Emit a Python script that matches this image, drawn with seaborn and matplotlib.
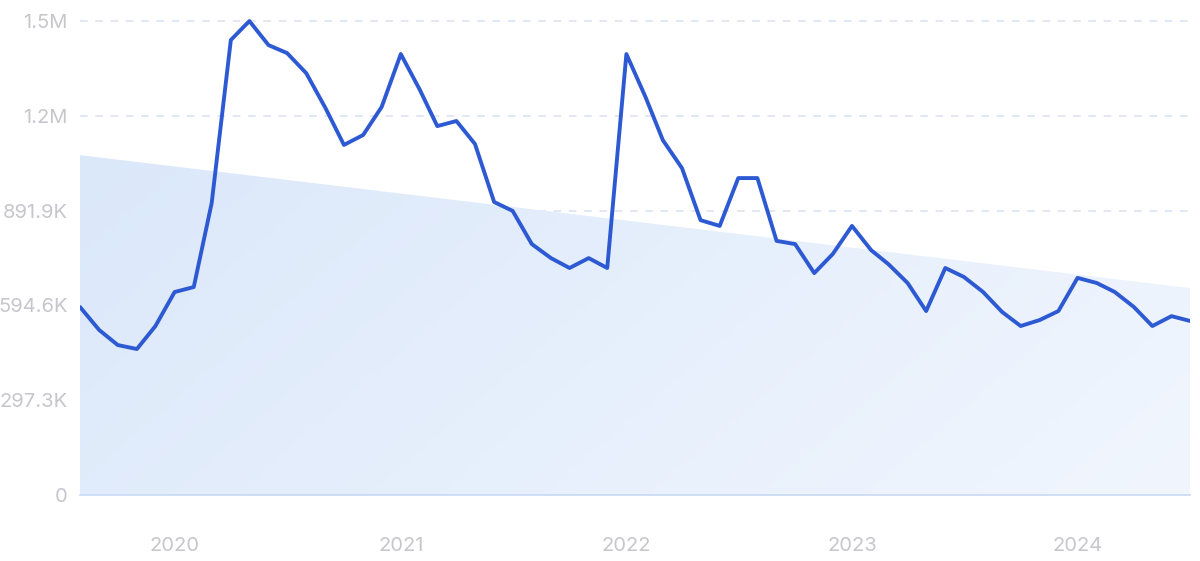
import numpy as np
import pandas as pd
import matplotlib
matplotlib.use("Agg")
import matplotlib.pyplot as plt
import seaborn as sns

# monthly values, Aug 2019 - Jul 2024
months = pd.date_range("2019-08-01", periods=60, freq="MS")
values = [
    589600, 517500, 470400, 457900, 530000, 636600, 652300, 915700, 1427000, 1486500,
    1411000, 1386000, 1323000, 1214000, 1098000, 1129000, 1217000, 1383000, 1270000, 1157000,
    1173000, 1101000, 919000, 891000, 787000, 743000, 712000, 743000, 712000, 1383000,
    1248000, 1113000, 1025000, 862000, 844000, 994000, 994000, 797000, 787000, 696000,
    756000, 844000, 768000, 724000, 665000, 577000, 712000, 684000, 637000, 574000,
    530000, 549000, 577000, 681000, 665000, 637000, 590000, 530000, 561000, 546000,
]
# trend band (start / end value)
trend_values = [1066000, 649000]

ytick_values = [0, 297300, 594600, 891900, 1189200, 1486500]
ytick_labels = ["0", "297.3K", "594.6K", "891.9K", "1.2M", "1.5M"]
xtick_years = ["2020", "2021", "2022", "2023", "2024"]

df = pd.DataFrame({"month": months, "value": values})

sns.set_style("white")
plt.rcParams["font.family"] = ["Inter", "DejaVu Sans"]

fig = plt.figure(figsize=(12, 5.61), dpi=100)
ax = fig.add_axes([0.0667, 0.1176, 0.925, 0.8645])

# trend fill with a soft gradient
x0, x1 = months[0], months[-1]
poly = ax.fill_between([x0, x1], [0, 0], trend_values, color="none", lw=0)
grad = np.linspace(0, 1, 256).reshape(1, -1)
grad = grad + np.linspace(0, 0.35, 64).reshape(-1, 1)
cmap = matplotlib.colors.LinearSegmentedColormap.from_list("g", ["#dbe8fa", "#f1f6fe"])
xn0, xn1 = matplotlib.dates.date2num(x0), matplotlib.dates.date2num(x1)
img = ax.imshow(grad, cmap=cmap, aspect="auto", extent=[xn0, xn1, 0, max(trend_values)],
                origin="upper", zorder=1)
img.set_clip_path(poly.get_paths()[0], transform=ax.transData)

sns.lineplot(data=df, x="month", y="value", ax=ax, color="#2d5ad3", linewidth=2.8, zorder=3)

ax.set_xlim(x0, x1)
ax.set_ylim(0, 1521000)
ax.set_yticks(ytick_values)
ax.set_yticklabels(ytick_labels)
ax.set_xticks([pd.Timestamp(f"{y}-01-01") for y in xtick_years])
ax.set_xticklabels(xtick_years)
ax.set_xlabel("")
ax.set_ylabel("")

for v in ytick_values[1:]:
    ax.axhline(v, color="#d8e1f1", lw=1.1, ls=(0, (5, 5)), zorder=0)

ax.tick_params(axis="x", length=0, pad=30, labelsize=14.5, labelcolor="#c6c6cc")
ax.tick_params(axis="y", length=0, pad=9, labelsize=14.5, labelcolor="#c6c6cc")

for s in ["top", "right", "left"]:
    ax.spines[s].set_visible(False)
ax.spines["bottom"].set_color("#c8d9f3")
ax.spines["bottom"].set_linewidth(1.2)

fig.savefig("out.png", dpi=100)
